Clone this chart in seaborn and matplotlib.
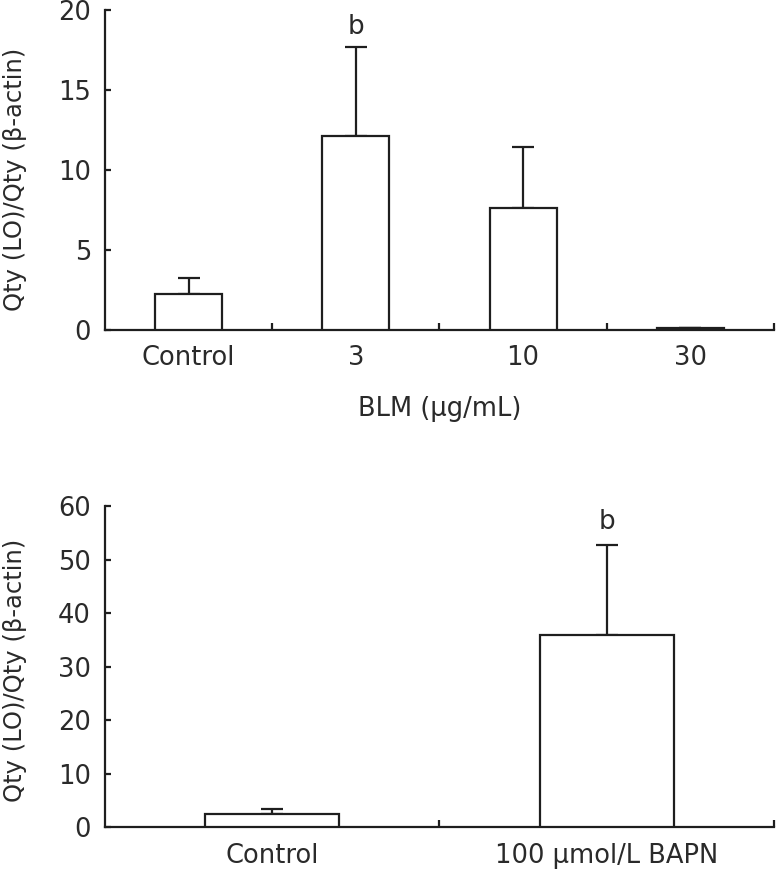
import numpy as np
import pandas as pd
import matplotlib
matplotlib.use("Agg")
import matplotlib.pyplot as plt
import seaborn as sns
from matplotlib.ticker import FixedLocator

# ---- data ----
blm_categories = ["Control", "3", "10", "30"]
blm_means = [2.25, 12.1, 7.65, 0.12]
blm_errs = [1.0, 5.6, 3.8, 0.0]
blm_marks = ["", "b", "", ""]

bapn_categories = ["Control", "100 µmol/L BAPN"]
bapn_means = [2.4, 36.0]
bapn_errs = [0.95, 16.8]
bapn_marks = ["", "b"]

top_yticks = [0, 5, 10, 15, 20]
bot_yticks = [0, 10, 20, 30, 40, 50, 60]
ylabel = "Qty (LO)/Qty (β-actin)"
top_xlabel = "BLM (µg/mL)"

sns.set_theme(style="white")
plt.rcParams["font.family"] = ["DejaVu Sans"]

INK = "#1e1e1e"
TXT = "#2a2a2a"

fig = plt.figure(figsize=(7.77, 8.73), dpi=100)
ax1 = fig.add_axes([0.1351, 0.622, 0.861, 0.3665])
ax2 = fig.add_axes([0.1351, 0.0523, 0.861, 0.3681])

TICK_FS = 18.5


def draw(ax, cats, means, errs, marks, yticks, ymax, capsize, mark_off, label_y):
    df = pd.DataFrame({"cat": cats, "val": means})
    sns.barplot(data=df, x="cat", y="val", ax=ax, color="white",
                edgecolor=INK, linewidth=1.6, width=0.4, errorbar=None,
                zorder=3)
    x = np.arange(len(cats))
    ax.errorbar(x, means, yerr=[np.zeros(len(errs)), errs], fmt="none",
                ecolor=INK, elinewidth=1.6, capsize=capsize, capthick=1.6,
                zorder=2)
    for xi, m, e, t in zip(x, means, errs, marks):
        if t:
            ax.annotate(t, (xi, m + e), xytext=(0, mark_off),
                        textcoords="offset points", ha="center", va="bottom",
                        fontsize=19, color=TXT)
    ax.set_xlim(-0.5, len(cats) - 0.5)
    ax.set_ylim(0, ymax)
    ax.set_yticks(yticks)
    ax.set_yticklabels([str(t) for t in yticks])
    ax.set_xlabel("")
    ax.set_ylabel(ylabel, fontsize=17.5, color=TXT)
    ax.yaxis.set_label_coords(-0.117, label_y)
    for s in ["top", "right"]:
        ax.spines[s].set_visible(False)
    for s in ["left", "bottom"]:
        ax.spines[s].set_color(INK)
        ax.spines[s].set_linewidth(1.6)
    ax.tick_params(axis="y", direction="in", length=4, width=1.6,
                   color=INK, labelsize=TICK_FS, labelcolor=TXT, left=True,
                   pad=10)
    ax.tick_params(axis="x", which="major", length=0, labelsize=TICK_FS,
                   labelcolor=TXT, pad=11)
    ax.xaxis.set_minor_locator(FixedLocator(list(np.arange(0.5, len(cats), 1.0))))
    ax.tick_params(axis="x", which="minor", direction="in", length=5,
                   width=1.6, color=INK, bottom=True)
    ax.set_facecolor("white")


draw(ax1, blm_categories, blm_means, blm_errs, blm_marks, top_yticks, 20, 8, 5, 0.47)
ax1.set_xlabel(top_xlabel, fontsize=TICK_FS, color=TXT, labelpad=18)
draw(ax2, bapn_categories, bapn_means, bapn_errs, bapn_marks, bot_yticks, 60, 8, 7, 0.49)

fig.savefig("out.png", dpi=100, facecolor="white")
